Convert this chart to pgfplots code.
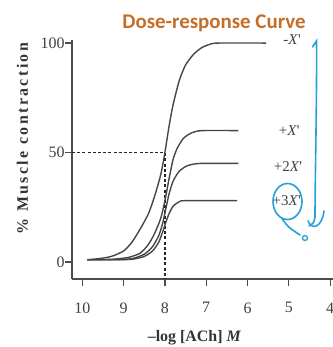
\documentclass[border=0pt]{standalone}
\usepackage{pgfplots}
\usepackage{pgfplotstable}
\pgfplotsset{compat=1.18}
\usepackage{fontspec}
\setmainfont{Liberation Serif}
\newfontfamily\titlefont{Carlito}
\newfontfamily\ylabfont[LetterSpace=15]{Liberation Serif}
\definecolor{curvegray}{RGB}{70,70,70}
\definecolor{titleorange}{RGB}{196,110,40}
\definecolor{penblue}{RGB}{40,160,215}

\pgfplotstableread{
lx y
9.88 1
9.6 1.5
9.3 2.5
9.0 5
8.8 9
8.6 15
8.4 22
8.25 30
8.1 40
8.0 50
7.9 62
7.8 72
7.65 83
7.5 90
7.3 95
7.1 98
6.9 99.5
6.7 100
5.55 100
}\noX
\pgfplotstableread{
lx y
9.88 1
9.3 1.2
8.9 2
8.6 4
8.4 8
8.25 13
8.1 20
8.0 28
7.9 38
7.8 47
7.7 52
7.55 56.5
7.35 59
7.1 60
6.22 60
}\oneX
\pgfplotstableread{
lx y
9.88 1
9.2 1
8.8 1.5
8.5 3.5
8.3 7
8.15 12
8.05 18
7.97 25
7.9 31
7.8 37
7.65 41.5
7.45 44
7.15 45
6.22 45
}\twoX
\pgfplotstableread{
lx y
9.88 1
9.2 1
8.8 1.2
8.5 2.5
8.3 5
8.15 9
8.05 14
7.98 18
7.9 22
7.8 25.5
7.65 27.5
7.5 28
6.25 28
}\threeX

\newcommand{\pr}{\textquotesingle}
\begin{document}
\begin{tikzpicture}
\path[use as bounding box] (-72bp,-68bp) rectangle (261bp,279bp);
\begin{axis}[
  at={(0,0)}, anchor=south west,
  scale only axis, width=261bp, height=239bp,
  xmin=-10.25, xmax=-3.93, ymin=-7.8, ymax=101.4,
  axis x line*=bottom, axis y line*=left,
  axis line style={draw=black!70, line width=1.6pt, -},
  xtick={-10,-9,-8,-7,-6,-5,-4},
  xticklabels={10,9,8,7,6,5,4},
  ytick={0,50,100},
  tick align=outside, major tick length=7bp,
  tick style={draw=black!70, line width=1.2pt},
  ticklabel style={font=\fontsize{16}{16}\selectfont, text=black!75},
  /pgf/number format/assume math mode=true,
  xticklabel style={yshift=-13bp},
  yticklabel style={xshift=3bp},
  clip=false,
]
\addplot[black!85, line width=1.8pt, dash pattern=on 3bp off 2.2bp] coordinates {(-10.25,50) (-8,50) (-8,-7.8)};
\addplot[curvegray, line width=1.4pt, smooth, tension=0.4] table[x expr=-\thisrowno{0}, y index=1] {\noX};
\addplot[curvegray, line width=1.4pt, smooth, tension=0.4] table[x expr=-\thisrowno{0}, y index=1] {\oneX};
\addplot[curvegray, line width=1.4pt, smooth, tension=0.4] table[x expr=-\thisrowno{0}, y index=1] {\twoX};
\addplot[curvegray, line width=1.4pt, smooth, tension=0.4] table[x expr=-\thisrowno{0}, y index=1] {\threeX};
\node[font=\fontsize{15}{15}\selectfont, text=black!75] at (axis cs:-4.92,101.8) {-\textit{X}\pr};
\node[font=\fontsize{15}{15}\selectfont, text=black!75] at (axis cs:-4.99,59.8) {+\textit{X}\pr};
\node[font=\fontsize{15}{15}\selectfont, text=black!75] at (axis cs:-5.02,43.4) {+2\textit{X}\pr};
\node[font=\fontsize{15}{15}\selectfont, text=black!75] at (axis cs:-5.05,27.9) {+3\textit{X}\pr};
\end{axis}
% hand-drawn blue annotation
\draw[penblue, line width=1.6pt, line cap=round]
  (240.5bp,232bp) -- (244.5bp,238bp) .. controls (245bp,180bp) and (243bp,100bp) .. (243bp,62bp)
  .. controls (242bp,56bp) .. (237bp,53bp);
\draw[penblue, line width=1.6pt, line cap=round]
  (236bp,58bp) .. controls (240bp,48bp) and (250bp,52bp) .. (252bp,68bp);
\draw[penblue, line width=1.6pt] (215.5bp,77.5bp) ellipse [x radius=14.5bp, y radius=18bp];
\draw[penblue, line width=1.6pt, line cap=round] (209.7bp,60.7bp) .. controls (216bp,52bp) .. (228bp,44bp);
\draw[penblue, line width=1.3pt] (233bp,41bp) circle [radius=2.5bp];
% titles and labels
\node[font=\titlefont\bfseries\fontsize{21}{21}\selectfont, text=titleorange] at (142bp,256bp) {Dose-response Curve};
\node[rotate=90, font=\ylabfont\bfseries\fontsize{16}{16}\selectfont, text=black!80] at (-49.5bp,140.5bp) {\% Muscle contraction};
\node[font=\bfseries\fontsize{16}{16}\selectfont, text=black!80] at (122.5bp,-59bp) {--log [ACh] \textit{M}};
\end{tikzpicture}
\end{document}
